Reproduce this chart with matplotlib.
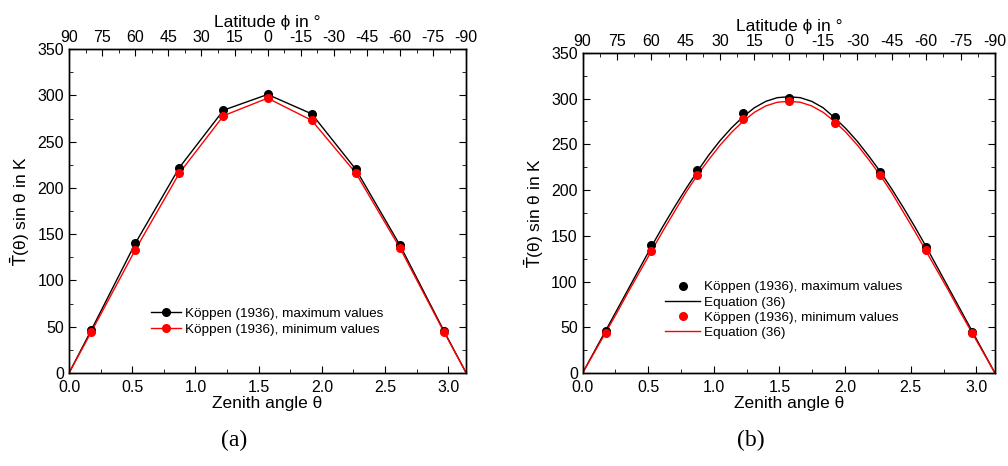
import numpy as np
import matplotlib.pyplot as plt

plt.rcParams['font.family'] = ['Liberation Sans', 'DejaVu Sans']
plt.rcParams['mathtext.fontset'] = 'dejavusans'
plt.rcParams['axes.unicode_minus'] = False

# Köppen (1936) data at zenith angles 10°, 30°, ..., 170°
theta_deg = [10, 30, 50, 70, 90, 110, 130, 150, 170]
t_max = [46, 140, 222, 284, 301, 280, 220, 138, 45]
t_min = [44, 133, 216, 278, 297, 273, 216, 135, 44]

# equation (36) curves, read every 5°
eq_deg = list(range(0, 181, 5))
eq_max = [0, 23, 46, 69, 92, 115, 138, 160, 181, 201, 220, 238, 254, 268, 280, 290, 297, 301, 302,
          301, 297, 290, 279, 267, 253, 237, 220, 201, 181, 160, 138, 115, 92, 69, 46, 23, 0]
eq_min = [0, 22, 44, 66, 89, 111, 133, 155, 176, 197, 216, 233, 249, 263, 275, 285, 292, 296, 297,
          296, 292, 285, 275, 263, 249, 233, 216, 197, 176, 155, 133, 111, 89, 66, 44, 22, 0]

lat_ticks = list(range(90, -91, -15))

th = np.deg2rad(theta_deg)
th_line = np.deg2rad([0] + theta_deg + [180])
max_line = [0] + t_max + [0]
min_line = [0] + t_min + [0]
th_eq = np.deg2rad(eq_deg)

fig = plt.figure(figsize=(10.08, 4.66), dpi=100)
ax1 = fig.add_axes([0.0685, 0.1996, 0.394, 0.695])
ax2 = fig.add_axes([0.578, 0.1996, 0.409, 0.687])


def style_axes(ax):
    ax.set_xlim(0, np.pi)
    ax.set_ylim(0, 350)
    ax.set_xticks(np.arange(0, 3.01, 0.5))
    ax.set_xticks(np.arange(0, 3.15, 0.25), minor=True)
    ax.set_yticks(range(0, 351, 50))
    ax.set_yticks(range(0, 351, 25), minor=True)
    ax.xaxis.set_major_formatter(plt.FormatStrFormatter('%.1f'))
    ax.tick_params(which='both', direction='in', right=True, labelsize=11.5)
    ax.tick_params(axis='x', pad=5)
    ax.tick_params(which='major', length=5)
    ax.tick_params(which='minor', length=3)
    ax.set_xlabel('Zenith angle θ', fontsize=12.5, labelpad=1)
    ax.set_ylabel(r'$\bar{\mathrm{T}}$(θ) sin θ in K', fontsize=12.5, labelpad=4)
    top = ax.twiny()
    top.set_xlim(90, -90)
    top.set_xticks(lat_ticks)
    top.set_xticks(np.arange(90, -91, -7.5), minor=True)
    top.tick_params(which='both', direction='in', labelsize=11.5, pad=3)
    top.tick_params(which='major', length=5)
    top.tick_params(which='minor', length=3)
    top.set_xlabel('Latitude ϕ in °', fontsize=12.5, labelpad=2)
    for a in (ax, top):
        for s in a.spines.values():
            s.set_linewidth(1.0)


style_axes(ax1)
ax1.plot(th_line, max_line, color='black', lw=1.0)
ax1.plot(th_line, min_line, color='red', lw=1.0)
ax1.plot(th, t_max, 'o', color='black', ms=5.5)
ax1.plot(th, t_min, 'o', color='red', ms=5.5)
h1 = ax1.plot([], [], '-o', color='black', lw=1.0, ms=5.5)[0]
h2 = ax1.plot([], [], '-o', color='red', lw=1.0, ms=5.5)[0]
ax1.legend([h1, h2], ['Köppen (1936), maximum values', 'Köppen (1936), minimum values'],
           loc='center left', bbox_to_anchor=(0.138, 0.31), bbox_transform=fig.transFigure,
           frameon=False, fontsize=9.7, handlelength=2.2, handletextpad=0.3, labelspacing=0.25)

style_axes(ax2)
ax2.plot(th_eq, eq_max, color='black', lw=1.0)
ax2.plot(th_eq, eq_min, color='red', lw=1.0)
ax2.plot(th, t_max, 'o', color='black', ms=5.5)
ax2.plot(th, t_min, 'o', color='red', ms=5.5)
g1 = ax2.plot([], [], 'o', color='black', ms=5.5)[0]
g2 = ax2.plot([], [], '-', color='black', lw=1.0)[0]
g3 = ax2.plot([], [], 'o', color='red', ms=5.5)[0]
g4 = ax2.plot([], [], '-', color='red', lw=1.0)[0]
ax2.legend([g1, g2, g3, g4],
           ['Köppen (1936), maximum values', 'Equation (36)',
            'Köppen (1936), minimum values', 'Equation (36)'],
           loc='center left', bbox_to_anchor=(0.648, 0.335), bbox_transform=fig.transFigure,
           frameon=False, fontsize=9.7, handlelength=2.6, handletextpad=0.3, labelspacing=0.2)

fig.text(0.232, 0.055, '(a)', family='Liberation Serif', fontsize=17, ha='center', va='center')
fig.text(0.745, 0.055, '(b)', family='Liberation Serif', fontsize=17, ha='center', va='center')

fig.savefig('out.png', dpi=100)
